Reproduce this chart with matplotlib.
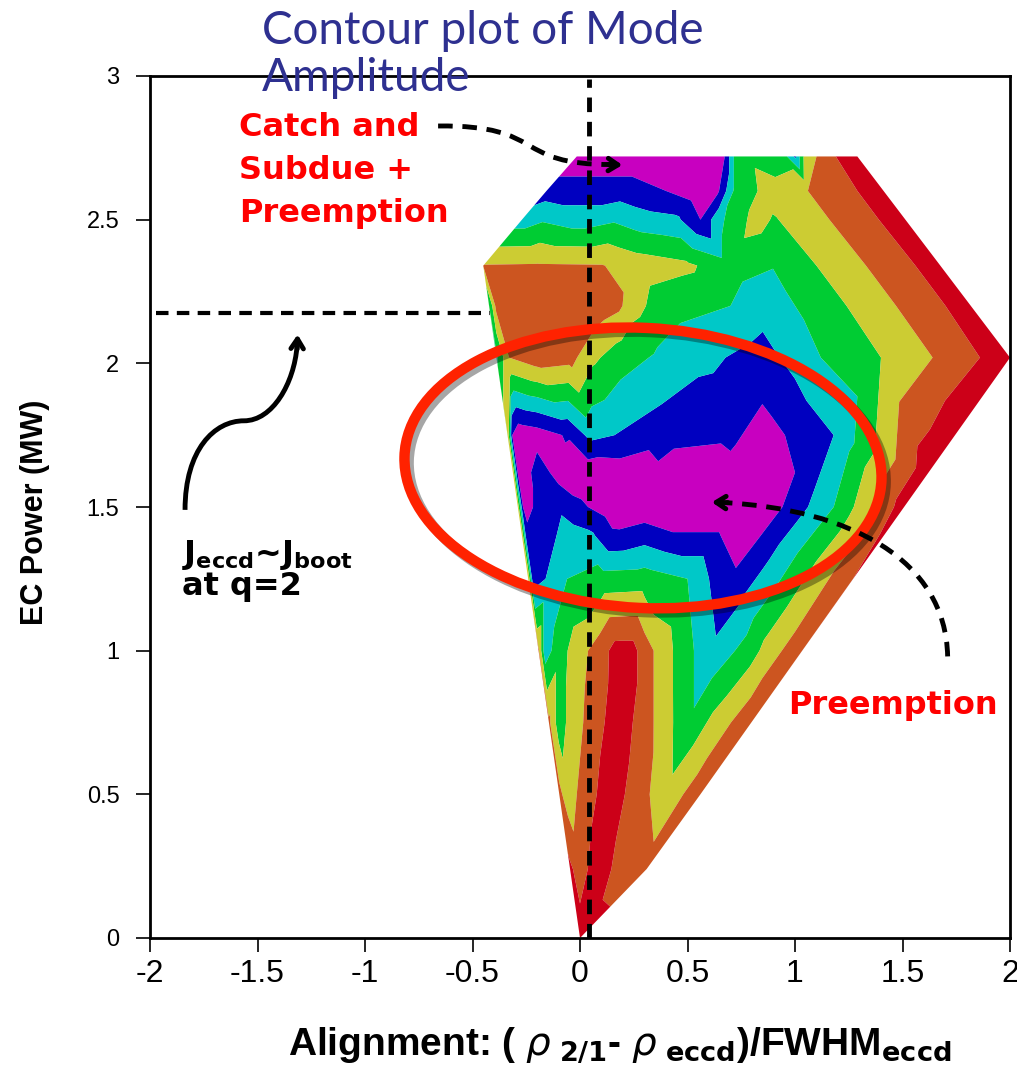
import matplotlib
matplotlib.use("Agg")
import matplotlib.pyplot as plt
import matplotlib.tri as mtri
import matplotlib.patheffects as pe
from matplotlib.patches import Ellipse, PathPatch
from matplotlib.path import Path
import numpy as np

# scan rows: EC power (MW), alignment positions and mode amplitude (in contour-level units)
power_rows = [0.0, 0.24, 0.5, 0.75, 1.0, 1.25, 1.4, 1.5, 1.62, 1.75, 2.02, 2.2, 2.34, 2.5, 2.6, 2.72]
align_rows = [
    [0.0],
    [-0.046, 0.0, 0.08, 0.19, 0.31],
    [-0.096, -0.06, 0.03, 0.135, 0.27, 0.40, 0.56],
    [-0.144, -0.10, -0.03, 0.06, 0.18, 0.30, 0.385, 0.51, 0.62, 0.796],
    [-0.192, -0.165, -0.10, -0.015, 0.09, 0.17, 0.24, 0.30, 0.385, 0.48, 0.61, 0.79, 0.88, 1.033],
    [-0.24, -0.22, -0.16, -0.06, 0.10, 0.30, 0.50, 0.60, 0.72, 1.27],
    [-0.27, -0.25, -0.18, -0.05, 0.05, 0.15, 0.45, 0.64, 0.74, 0.84, 1.41],
    [-0.288, -0.265, -0.24, -0.20, -0.10, 0.0, 0.15, 0.30, 0.50, 0.70, 0.87, 1.18, 1.507],
    [-0.311, -0.29, -0.26, -0.20, -0.10, 0.03, 0.20, 0.50, 0.80, 1.0, 1.62],
    [-0.336, -0.315, -0.28, -0.20, -0.06, 0.05, 0.16, 0.40, 0.70, 0.86, 1.0, 1.18, 1.744],
    [-0.388, -0.33, -0.20, -0.05, 0.06, 0.20, 0.35, 0.60, 0.83, 1.0, 1.12, 1.40, 1.64, 1.86, 2.0],
    [-0.422, -0.39, -0.20, 0.08, 0.18, 0.26, 0.40, 0.70, 0.87, 1.24, 1.47, 1.70, 1.817],
    [-0.45, -0.20, 0.10, 0.25, 0.50, 0.68, 0.90, 1.10, 1.33, 1.56, 1.676],
    [-0.27, 0.0, 0.30, 0.45, 0.56, 0.65, 0.82, 0.90, 1.16, 1.39, 1.513],
    [-0.156, 0.20, 0.40, 0.55, 0.64, 0.72, 0.88, 1.06, 1.29, 1.412],
    [-0.015, 0.30, 0.60, 0.67, 0.72, 0.78, 0.95, 1.0, 1.04, 1.10, 1.19, 1.29],
]
amp_rows = [
    [6.5],
    [6.2, 5.5, 6.6, 5.6, 5.4],
    [5.3, 4.5, 5.5, 6.6, 5.5, 4.3, 5.7],
    [5.2, 3.5, 4.5, 5.5, 6.6, 5.5, 4.5, 3.2, 4.3, 5.8],
    [5.1, 2.5, 3.5, 4.5, 5.5, 6.4, 6.4, 5.5, 4.5, 3.5, 2.2, 3.5, 4.5, 5.8],
    [4.8, 1.5, 2.0, 3.0, 3.4, 3.5, 3.0, 2.0, 1.2, 6.0],
    [4.8, 1.6, 1.4, 2.5, 2.2, 1.2, 1.1, 1.1, 0.4, 1.0, 6.2],
    [4.5, 1.0, 0.3, 1.6, 1.8, 1.2, 0.4, 0.3, 0.3, 0.3, 0.4, 3.0, 6.5],
    [4.7, 1.0, 0.3, 1.6, 0.6, 0.3, 0.4, 0.3, 0.4, 1.0, 6.6],
    [4.8, 1.0, 0.3, 0.5, 1.1, 2.3, 2.0, 1.4, 1.2, 0.6, 1.2, 2.0, 6.8],
    [2.8, 5.0, 5.6, 5.4, 4.2, 3.4, 2.9, 2.2, 1.6, 2.3, 3.0, 4.0, 5.0, 6.0, 7.0],
    [3.0, 5.3, 5.8, 5.6, 5.2, 4.3, 3.4, 3.0, 2.4, 4.0, 5.0, 6.0, 7.0],
    [5.05, 5.1, 5.05, 4.6, 4.2, 3.4, 3.05, 4.0, 5.0, 6.0, 7.0],
    [2.5, 2.5, 2.4, 2.2, 1.0, 2.8, 4.4, 3.9, 5.0, 6.0, 7.0],
    [1.5, 1.5, 1.0, 0.4, 0.8, 3.2, 4.4, 5.0, 6.0, 7.0],
    [0.3, 0.3, 0.3, 0.9, 3.2, 3.8, 3.4, 1.8, 4.0, 5.0, 6.0, 7.0],
]

levels = [0, 1, 2, 3, 4, 5, 6, 7.5]
band_colors = ["#c800c0", "#0000c0", "#00c8c8", "#00cc33", "#cccc33", "#cc5520", "#cc0018"]

x_ticks = [-2, -1.5, -1, -0.5, 0, 0.5, 1, 1.5, 2]
x_tick_labels = ["-2", "-1.5", "-1", "-0.5", "0", "0.5", "1", "1.5", "2"]
y_ticks = [0, 0.5, 1, 1.5, 2, 2.5, 3]
y_tick_labels = ["0", "0.5", "1", "1.5", "2", "2.5", "3"]

align = np.concatenate([np.array(r, float) for r in align_rows])
power = np.concatenate([np.full(len(r), p) for r, p in zip(align_rows, power_rows)])
amp = np.concatenate([np.array(r, float) for r in amp_rows])

sans = ["Liberation Sans", "DejaVu Sans"]

fig = plt.figure(figsize=(10.17, 10.67), dpi=100)
ax = fig.add_axes([150 / 1017, 129 / 1067, 860 / 1017, 862 / 1067])

tri = mtri.Triangulation(align, power)
ax.tricontourf(tri, amp, levels=levels, colors=band_colors, antialiased=True)

ax.set_xlim(-2, 2)
ax.set_ylim(0, 3)
ax.set_xticks(x_ticks)
ax.set_xticklabels(x_tick_labels, family=sans, fontsize=23)
ax.set_yticks(y_ticks)
ax.set_yticklabels(y_tick_labels, family=sans, fontsize=17)
ax.tick_params(direction="out", length=10, width=1.2)
ax.tick_params(axis="y", pad=12)
ax.tick_params(axis="x", pad=5)
for s in ax.spines.values():
    s.set_linewidth(2)

fig.text(35 / 1017, 1 - 512 / 1067, "EC Power (MW)", rotation=90, fontsize=22, fontweight="bold",
         family=sans, ha="center", va="center")
fig.text(620 / 1017, 1 - 1045 / 1067,
         r"Alignment: ( $\rho_{\mathbf{\ 2/1}}$- $\rho_{\mathbf{\ eccd}}$)/FWHM$_{\mathbf{eccd}}$",
         fontsize=28, fontweight="bold", family=sans, ha="center", va="center")

# reference lines
ax.plot([0.04, 0.04], [0, 2.99], ls=(0, (3, 2)), color="k", lw=3.5, zorder=5)
ax.plot([-1.97, -0.42], [2.175, 2.175], ls=(0, (3, 2)), color="k", lw=3, zorder=5)

# red ellipse
ell = Ellipse((0.293, 1.636), 2.22, 0.975, angle=-2, fill=False, lw=7.5, edgecolor="#ff2200", zorder=6,
              path_effects=[pe.SimpleLineShadow(offset=(3, -3), shadow_color="k", alpha=0.35), pe.Normal()])
ax.add_patch(ell)

# arrows
head = dict(arrowstyle="->,head_length=0.7,head_width=0.45", lw=3.5, color="k")
C4 = Path.CURVE4


def dashed_curve(verts):
    patch = PathPatch(Path(verts, [Path.MOVETO, C4, C4, C4]), fill=False, lw=3.5, ls=(0, (3, 2)),
                      edgecolor="k", zorder=7)
    ax.add_patch(patch)


dashed_curve([(-0.66, 2.826), (-0.15, 2.83), (-0.32, 2.69), (0.15, 2.692)])
ax.annotate("", xy=(0.21, 2.69), xytext=(0.12, 2.692), arrowprops=head, zorder=8)

dashed_curve([(1.71, 0.98), (1.70, 1.32), (1.25, 1.49), (0.68, 1.515)])
ax.annotate("", xy=(0.60, 1.517), xytext=(0.70, 1.515), arrowprops=head, zorder=8)

s_verts = [(-1.837, 1.49), (-1.837, 1.70), (-1.70, 1.80), (-1.563, 1.80),
           (-1.43, 1.80), (-1.33, 1.93), (-1.316, 2.06)]
ax.add_patch(PathPatch(Path(s_verts, [Path.MOVETO, C4, C4, C4, C4, C4, C4]), fill=False, lw=3.5,
                       edgecolor="k", zorder=7))
ax.annotate("", xy=(-1.313, 2.11), xytext=(-1.316, 2.04), arrowprops=head, zorder=8)

# texts
fig.text(262 / 1017, 1 - 10 / 1067, "Contour plot of Mode\nAmplitude", color="#2e3090", fontsize=33,
         ha="left", va="top", linespacing=1.15, family=["Lato", "DejaVu Sans"])
ax.text(-1.585, 2.875, "Catch and\nSubdue +\nPreemption", color="#ff0000", fontsize=23, fontweight="bold",
        ha="left", va="top", linespacing=1.5, family=["DejaVu Sans"], zorder=9)
ax.text(0.97, 0.81, "Preemption", color="#ff0000", fontsize=23, fontweight="bold",
        ha="left", va="center", family=["DejaVu Sans"], zorder=9)
ax.text(-1.85, 1.17, r"J$_{\mathbf{eccd}}$~J$_{\mathbf{boot}}$" + "\nat q=2", color="k", fontsize=23,
        fontweight="bold", ha="left", va="bottom", linespacing=0.95, family=["DejaVu Sans"], zorder=9)

fig.savefig("out.png", dpi=100)
